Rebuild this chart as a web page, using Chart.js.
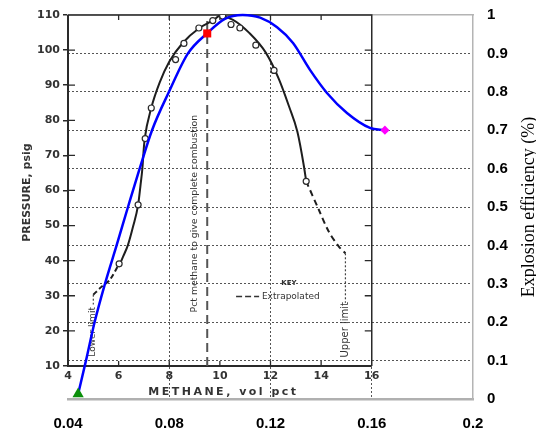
<!DOCTYPE html>
<html><head><meta charset="utf-8">
<script src="https://cdn.jsdelivr.net/npm/chart.js@4/dist/chart.umd.min.js"></script>
<style>html,body{margin:0;padding:0;background:#fff;overflow:hidden}</style>
</head><body>
<canvas id="c" width="536" height="431"></canvas>
<script>
// ---------- Outer chart: explosion efficiency vs methane fraction ----------
const effX = [0.044,0.0471,0.0505,0.0546,0.0592,0.0637,0.0683,0.0732,0.0799,0.0874,0.0949,0.102,0.109,0.1159,0.1226,0.1289,0.1356,0.1423,0.1502,0.1593,0.1652];
const effY = [0.013,0.1,0.2,0.3,0.4,0.5,0.6,0.7,0.8,0.9,0.952,0.99,1.0,0.993,0.968,0.927,0.857,0.797,0.745,0.706,0.70];
const lowerPoint = {x:0.044, y:0.013};
const stoichPoint = {x:0.095, y:0.952};
const upperPoint = {x:0.1652, y:0.70};
const xTicks = [0.04,0.08,0.12,0.16,0.2];
const yTicks = [0,0.1,0.2,0.3,0.4,0.5,0.6,0.7,0.8,0.9,1];
const rightTitle = 'Explosion efficiency (%)';

// ---------- Inner (scanned) chart: pressure vs methane vol pct ----------
const curvePct  = [6.05,6.18,6.37,6.57,6.77,6.86,6.94,6.99,7.03,7.29,7.62,8.01,8.54,9.19,9.78,9.98,10.5,11.16,11.82,12.34,12.73,13.06,13.32,13.41];
const curvePsig = [39.0,41.2,44.5,49.7,55.9,61.2,66.4,71.6,74.7,83.5,90.7,96.8,102.1,106.3,108.7,109.7,108.7,104.9,99.2,91.6,84.0,76.8,66.9,62.6];
const obsPct  = [6.02,6.77,7.05,7.29,8.25,8.58,9.17,9.72,10.11,10.44,10.79,11.42,12.14,13.41];
const obsPsig = [39.1,55.9,74.8,83.5,97.3,101.9,106.3,108.4,109.7,107.3,106.3,101.4,94.2,62.6];
const lowExtPct  = [5.0,5.33,5.65,6.02];
const lowExtPsig = [30.3,32.6,34.5,39.1];
const upExtPct  = [13.41,13.91,14.3,14.7,14.96];
const upExtPsig = [62.6,54.5,48.3,44.0,42.1];
const lowerLimit = {pct:5.0, from:30.3, to:27.5};
const upperLimit = {pct:14.96, from:42.1, to:28.0};
const stoichPct = 9.5;
const pctTicks = [4,6,8,10,12,14,16];
const psigTicks = [10,20,30,40,50,60,70,80,90,100,110];
const keyDash = {from:10.64, to:11.55, psig:29.8};

// text annotations (placed in inner data units)
const notes = [
  {text:'PRESSURE, psig', x:2.39, y:59.4, rot:-Math.PI/2, font:'bold 11px "DejaVu Sans"'},
  {text:'METHANE, vol pct', x:10.14, y:2.6, font:'bold 11px "DejaVu Sans"', spacing:'2.5px'},
  {text:'Pct methane to give complete combustion', x:9.0, y:53.4, rot:-Math.PI/2, font:'9.3px "DejaVu Sans"'},
  {text:'Lower limit', x:4.98, y:19.7, rot:-Math.PI/2, font:'9px "DejaVu Sans"'},
  {text:'Upper limit', x:14.96, y:20.3, rot:-Math.PI/2, font:'10px "DejaVu Sans"'},
  {text:'KEY', x:12.73, y:33.7, font:'bold 7px "DejaVu Sans"'},
  {text:'Extrapolated', x:11.66, y:29.8, align:'left', font:'9px "DejaVu Sans"'}
];
const innerTickLabelPsig = 7.15;

const pts = (xs, ys) => xs.map((x,i)=>({x, y:ys[i]}));
const INK = '#2a2a2a';
const GRID = '#555';

const innerPlugin = {
  id:'inner',
  beforeDatasetsDraw(chart){
    const ctx = chart.ctx, X = chart.scales.xP, Y = chart.scales.yP;
    const px = v => X.getPixelForValue(v), py = v => Y.getPixelForValue(v);
    const x0 = px(4), x1 = px(16), y0 = py(10), y1 = py(110);
    ctx.save();
    ctx.strokeStyle = INK;
    ctx.lineWidth = 2;
    ctx.beginPath(); ctx.moveTo(x0, y1); ctx.lineTo(x0, y0); ctx.lineTo(x1, y0); ctx.stroke();
    ctx.lineWidth = 1.5;
    ctx.beginPath(); ctx.moveTo(x1, y0); ctx.lineTo(x1, y1); ctx.lineTo(x0, y1); ctx.stroke();
    ctx.lineWidth = 1.3;
    ctx.beginPath();
    psigTicks.slice(1, -1).forEach(v => {
      const y = py(v);
      ctx.moveTo(x0, y); ctx.lineTo(x0 + 7, y);
      ctx.moveTo(x1, y); ctx.lineTo(x1 - 7, y);
    });
    pctTicks.slice(1, -1).forEach(v => {
      const x = px(v);
      ctx.moveTo(x, y0); ctx.lineTo(x, y0 - 5);
      ctx.moveTo(x, y1); ctx.lineTo(x, y1 + 5);
    });
    ctx.stroke();
    ctx.fillStyle = '#333';
    ctx.font = 'bold 11px "DejaVu Sans"';
    ctx.textAlign = 'center'; ctx.textBaseline = 'middle';
    pctTicks.forEach(v => ctx.fillText(String(v), px(v), py(innerTickLabelPsig)));
    notes.forEach(n => {
      ctx.save();
      ctx.translate(px(n.x), py(n.y));
      if (n.rot) ctx.rotate(n.rot);
      ctx.font = n.font;
      ctx.fillStyle = '#333';
      ctx.textAlign = n.align || 'center';
      ctx.textBaseline = 'middle';
      ctx.letterSpacing = n.spacing || '0px';
      ctx.fillText(n.text, 0, 0);
      ctx.restore();
    });
    ctx.restore();
  },
  afterDraw(chart){
    const ctx = chart.ctx, s = chart.scales.y, a = chart.chartArea;
    ctx.save();
    ctx.translate(s.right - 2, (a.top + a.bottom) / 2);
    ctx.rotate(-Math.PI/2);
    ctx.font = '18px "Liberation Serif", "Times New Roman", serif';
    ctx.fillStyle = '#000';
    ctx.textAlign = 'center'; ctx.textBaseline = 'alphabetic';
    ctx.fillText(rightTitle, 0, 0);
    ctx.restore();
  }
};

const inner = {xAxisID:'xP', yAxisID:'yP'};
const outer = {xAxisID:'x', yAxisID:'y'};

const datasets = [
  {...outer, data:[lowerPoint], pointStyle:'triangle', pointRadius:6.5, backgroundColor:'#0a8f0a', borderColor:'#0a8f0a', borderWidth:0, clip:false},
  {...outer, data:[stoichPoint], pointStyle:'rect', pointRadius:5.7, backgroundColor:'#ff0000', borderColor:'#ff0000', borderWidth:0, clip:false},
  {...outer, data:[upperPoint], pointStyle:'rectRot', pointRadius:4.6, backgroundColor:'#ff00ff', borderColor:'#ff00ff', borderWidth:0, clip:false},
  {...outer, data:pts(effX, effY), showLine:true, borderColor:'#0000ff', borderWidth:2.5, pointRadius:0, cubicInterpolationMode:'monotone', clip:false},
  {...inner, data:pts(obsPct, obsPsig), pointStyle:'circle', pointRadius:3, backgroundColor:'#fff', borderColor:INK, borderWidth:1.2},
  {...inner, data:pts(curvePct, curvePsig), showLine:true, borderColor:'#1e1e1e', borderWidth:2, pointRadius:0, cubicInterpolationMode:'monotone'},
  {...inner, data:pts(lowExtPct, lowExtPsig), showLine:true, borderColor:'#1e1e1e', borderWidth:2, borderDash:[5,3], pointRadius:0, tension:0.3},
  {...inner, data:pts(upExtPct, upExtPsig), showLine:true, borderColor:'#1e1e1e', borderWidth:2, borderDash:[6,4], pointRadius:0, tension:0.3},
  {...inner, data:[{x:lowerLimit.pct, y:lowerLimit.from},{x:lowerLimit.pct, y:lowerLimit.to}], showLine:true, borderColor:'#444', borderWidth:1.2, borderDash:[2,2], pointRadius:0},
  {...inner, data:[{x:upperLimit.pct, y:upperLimit.from},{x:upperLimit.pct, y:upperLimit.to}], showLine:true, borderColor:'#444', borderWidth:1.2, borderDash:[2,2], pointRadius:0},
  {...inner, data:[{x:keyDash.from, y:keyDash.psig},{x:keyDash.to, y:keyDash.psig}], showLine:true, borderColor:'#333', borderWidth:1.5, borderDash:[6,3], pointRadius:0},
  {...inner, data:[{x:stoichPct, y:10},{x:stoichPct, y:110}], showLine:true, borderColor:'#555', borderWidth:2, borderDash:[9,5], pointRadius:0}
];

const edgeClear = (list) => (c) => (c.index === 0 || c.index === list.length - 1) ? 'rgba(0,0,0,0)' : GRID;
const numFmt = (d) => (v) => String(Number(Number(v).toFixed(d)));
const tickFont = {family:'"Liberation Sans", Arial, sans-serif', size:15, weight:'bold'};
const noPad = (s) => { s.paddingTop = 0; s.paddingBottom = 0; s.paddingLeft = 0; s.paddingRight = 0; };

new Chart(document.getElementById('c'), {
  type:'scatter',
  data:{datasets},
  options:{
    responsive:false, animation:false, events:[],
    devicePixelRatio:1,
    layout:{padding:0},
    plugins:{legend:{display:false}, tooltip:{enabled:false}},
    scales:{
      x:{type:'linear', position:'bottom', min:0.04, max:0.2,
         afterBuildTicks:s => { s.ticks = xTicks.map(v => ({value:v})); },
         afterFit:s => { s.height = 32; noPad(s); },
         ticks:{font:tickFont, color:'#000', padding:16, callback:numFmt(2)},
         grid:{color:edgeClear(xTicks), lineWidth:1, drawTicks:false},
         border:{color:'#b0b0b0', width:2.5, dash:[2,2]}},
      y:{type:'linear', position:'right', min:0, max:1,
         afterBuildTicks:s => { s.ticks = yTicks.map(v => ({value:v})); },
         afterFit:s => { s.width = 63; noPad(s); },
         ticks:{font:tickFont, color:'#000', padding:14, callback:numFmt(1)},
         grid:{color:edgeClear(yTicks), lineWidth:1, drawTicks:false},
         border:{color:'#b4b4b4', width:1.5, dash:[2,2]}},
      xP:{type:'linear', position:'top', min:4, max:20,
         afterFit:s => { s.height = 15; noPad(s); },
         ticks:{display:false}, grid:{display:false},
         border:{display:true, color:'#b4b4b4', width:1.5}},
      yP:{type:'linear', position:'left', min:0.58, max:110,
         afterBuildTicks:s => { s.ticks = psigTicks.map(v => ({value:v})); },
         afterFit:s => { s.width = 68; noPad(s); },
         ticks:{font:{family:'"DejaVu Sans"', size:11, weight:'bold'}, color:'#333', padding:3},
         grid:{drawOnChartArea:false, drawTicks:true, tickLength:5, color:INK, lineWidth:1.5},
         border:{display:false}}
    }
  },
  plugins:[innerPlugin]
});
</script>
</body></html>
